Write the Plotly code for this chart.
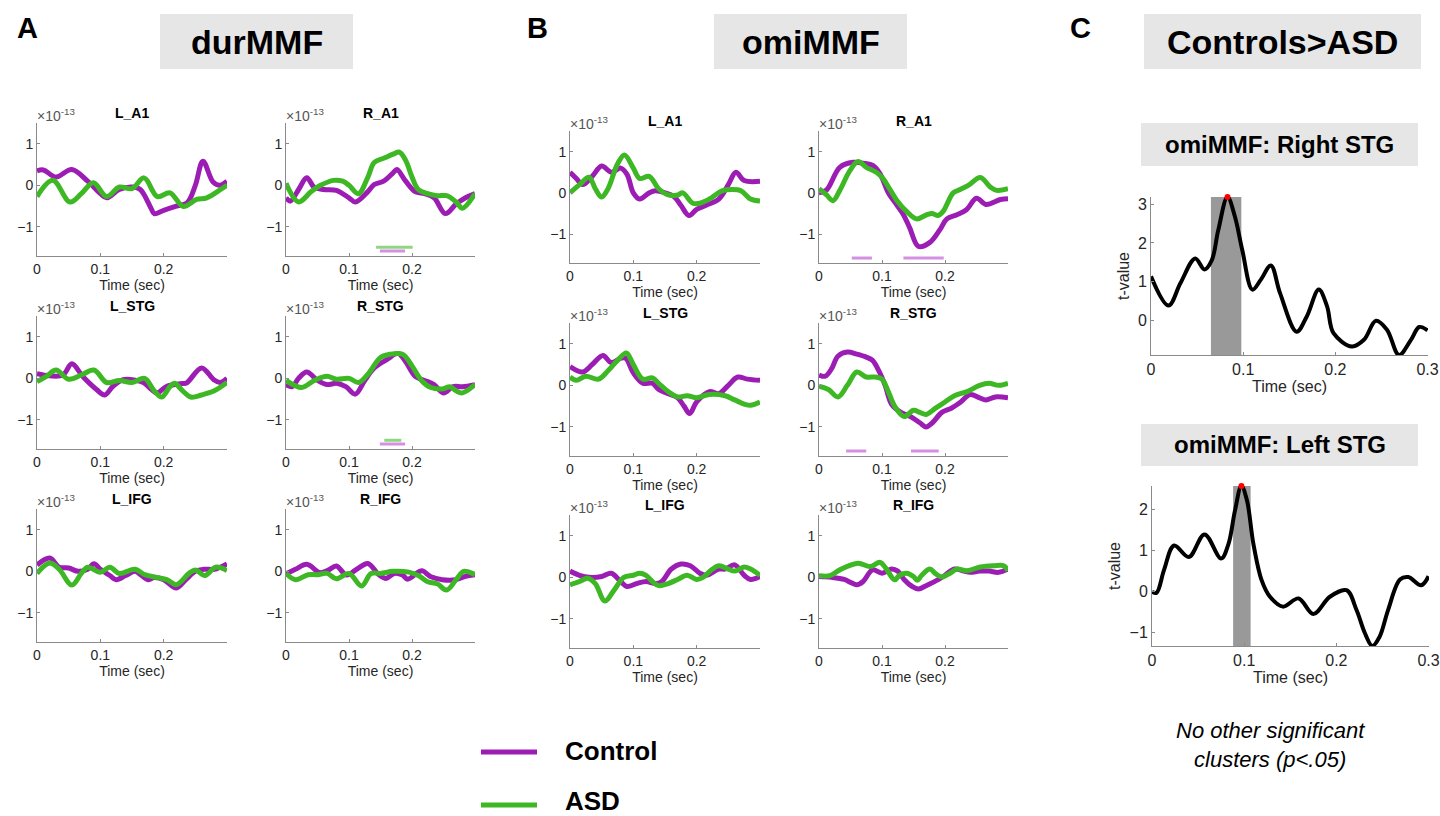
import plotly.graph_objects as go

W, H = 1440, 816
PURPLE = '#9C1DB4'
GREEN = '#3DB824'
PURPLE_L = '#D58FE3'
GREEN_L = '#8FD77F'
FONT = 'Liberation Sans, Arial, Helvetica, sans-serif'
TICKC = '#262626'
AXC = '#8a8a8a'

# ---------------- durMMF (panel A) ----------------
dur_LA1_ctrl_t = [0, 0.01, 0.03, 0.055, 0.08, 0.1, 0.11, 0.13, 0.15, 0.163, 0.18, 0.185, 0.2, 0.22, 0.237, 0.25, 0.262, 0.278, 0.289, 0.3]
dur_LA1_ctrl_v = [0.35, 0.37, 0.2, 0.38, 0.1, -0.2, -0.3, -0.1, -0.04, -0.1, -0.55, -0.68, -0.6, -0.5, -0.42, 0.0, 0.58, 0.08, 0.0, 0.1]
dur_LA1_asd_t = [0, 0.025, 0.052, 0.07, 0.089, 0.11, 0.13, 0.15, 0.169, 0.19, 0.21, 0.231, 0.252, 0.268, 0.29, 0.3]
dur_LA1_asd_v = [-0.27, 0.12, -0.4, -0.2, 0.06, -0.27, -0.04, -0.08, 0.18, -0.27, -0.18, -0.51, -0.34, -0.3, -0.1, 0.0]

dur_RA1_ctrl_t = [0, 0.007, 0.02, 0.033, 0.045, 0.06, 0.08, 0.1, 0.11, 0.13, 0.14, 0.155, 0.17, 0.176, 0.19, 0.205, 0.22, 0.235, 0.253, 0.27, 0.285, 0.3]
dur_RA1_ctrl_v = [-0.3, -0.38, -0.1, 0.18, -0.05, -0.1, -0.12, -0.3, -0.4, -0.15, 0.02, 0.1, 0.3, 0.38, 0.1, -0.15, -0.2, -0.3, -0.68, -0.45, -0.3, -0.2]
dur_RA1_asd_t = [0, 0.02, 0.04, 0.055, 0.075, 0.09, 0.1, 0.115, 0.13, 0.14, 0.155, 0.17, 0.18, 0.19, 0.2, 0.21, 0.225, 0.24, 0.255, 0.27, 0.28, 0.3]
dur_RA1_asd_v = [0.05, -0.4, -0.15, 0.0, 0.12, 0.1, 0.0, -0.2, 0.2, 0.55, 0.65, 0.75, 0.8, 0.6, 0.2, -0.1, -0.2, -0.25, -0.25, -0.4, -0.55, -0.2]
dur_RA1_sig_ctrl = [[0.149, 0.189]]
dur_RA1_sig_asd = [[0.143, 0.201]]

dur_LSTG_ctrl_t = [0, 0.02, 0.041, 0.055, 0.073, 0.094, 0.107, 0.12, 0.136, 0.157, 0.168, 0.181, 0.189, 0.205, 0.226, 0.236, 0.26, 0.279, 0.289, 0.3]
dur_LSTG_ctrl_v = [0.11, 0.06, 0.08, 0.35, 0.03, -0.27, -0.4, -0.19, -0.03, -0.05, -0.1, -0.27, -0.35, -0.19, -0.13, -0.11, 0.25, -0.03, -0.1, 0.0]
dur_LSTG_asd_t = [0, 0.015, 0.03, 0.05, 0.07, 0.09, 0.11, 0.13, 0.15, 0.17, 0.185, 0.197, 0.21, 0.217, 0.23, 0.243, 0.26, 0.28, 0.3]
dur_LSTG_asd_v = [-0.08, 0.05, 0.2, -0.02, 0.08, 0.2, -0.1, -0.05, -0.1, 0.0, -0.3, -0.45, -0.2, -0.12, -0.3, -0.45, -0.4, -0.3, -0.1]

dur_RSTG_ctrl_t = [0, 0.01, 0.02, 0.033, 0.05, 0.065, 0.08, 0.095, 0.11, 0.125, 0.14, 0.16, 0.178, 0.19, 0.205, 0.22, 0.235, 0.25, 0.265, 0.28, 0.3]
dur_RSTG_ctrl_v = [-0.15, -0.2, 0.0, 0.15, -0.05, -0.15, -0.12, -0.2, -0.38, -0.05, 0.25, 0.45, 0.6, 0.4, 0.05, -0.05, -0.15, -0.35, -0.2, -0.2, -0.15]
dur_RSTG_asd_t = [0, 0.025, 0.045, 0.065, 0.08, 0.1, 0.115, 0.13, 0.15, 0.165, 0.185, 0.2, 0.215, 0.23, 0.25, 0.26, 0.27, 0.28, 0.3]
dur_RSTG_asd_v = [-0.05, -0.22, -0.05, 0.05, -0.02, 0.0, -0.1, 0.1, 0.5, 0.58, 0.58, 0.3, -0.05, -0.22, -0.25, -0.2, -0.3, -0.35, -0.15]
dur_RSTG_sig_ctrl = [[0.149, 0.189]]
dur_RSTG_sig_asd = [[0.156, 0.183]]

dur_LIFG_ctrl_t = [0, 0.02, 0.035, 0.05, 0.065, 0.08, 0.09, 0.1, 0.115, 0.125, 0.14, 0.155, 0.165, 0.175, 0.185, 0.2, 0.22, 0.235, 0.25, 0.265, 0.28, 0.3]
dur_LIFG_ctrl_v = [0.15, 0.32, 0.1, 0.08, 0.0, 0.05, 0.18, 0.05, -0.1, -0.2, -0.1, 0.0, -0.1, -0.2, -0.15, -0.2, -0.4, -0.2, 0.0, 0.05, 0.05, 0.18]
dur_LIFG_asd_t = [0, 0.02, 0.035, 0.055, 0.07, 0.08, 0.1, 0.115, 0.13, 0.155, 0.17, 0.19, 0.205, 0.22, 0.24, 0.25, 0.265, 0.282, 0.3]
dur_LIFG_asd_v = [-0.05, 0.2, 0.05, -0.33, -0.05, 0.1, -0.02, 0.1, -0.05, 0.05, -0.08, -0.15, -0.2, -0.32, -0.05, 0.03, -0.1, 0.1, 0.02]

dur_RIFG_ctrl_t = [0, 0.015, 0.033, 0.054, 0.067, 0.08, 0.096, 0.114, 0.13, 0.148, 0.159, 0.172, 0.185, 0.193, 0.212, 0.217, 0.23, 0.248, 0.27, 0.285, 0.3]
dur_RIFG_ctrl_v = [-0.06, 0.05, 0.17, -0.03, 0.03, 0.13, -0.09, 0.07, 0.19, -0.09, -0.17, -0.05, -0.09, -0.19, 0.0, 0.01, -0.13, -0.2, -0.2, -0.12, -0.08]
dur_RIFG_asd_t = [0, 0.015, 0.035, 0.05, 0.065, 0.08, 0.1, 0.12, 0.135, 0.15, 0.17, 0.195, 0.21, 0.225, 0.24, 0.255, 0.27, 0.282, 0.3]
dur_RIFG_asd_v = [-0.05, -0.2, -0.08, -0.08, -0.05, -0.18, -0.05, -0.35, -0.05, -0.05, 0.0, -0.02, -0.1, -0.25, -0.3, -0.45, -0.2, 0.0, -0.08]

# ---------------- omiMMF (panel B) ----------------
omi_LA1_ctrl_t = [0, 0.01, 0.02, 0.035, 0.05, 0.065, 0.08, 0.09, 0.1, 0.11, 0.125, 0.135, 0.15, 0.165, 0.175, 0.188, 0.2, 0.215, 0.235, 0.25, 0.262, 0.275, 0.3]
omi_LA1_ctrl_v = [0.5, 0.35, 0.2, 0.4, 0.65, 0.5, 0.6, 0.45, 0.0, -0.15, 0.0, 0.05, 0.0, -0.1, -0.3, -0.55, -0.4, -0.3, -0.15, 0.2, 0.5, 0.3, 0.28]
omi_LA1_asd_t = [0, 0.015, 0.03, 0.04, 0.05, 0.06, 0.075, 0.086, 0.1, 0.11, 0.125, 0.14, 0.155, 0.17, 0.178, 0.194, 0.205, 0.22, 0.24, 0.255, 0.27, 0.285, 0.3]
omi_LA1_asd_v = [0.0, 0.2, 0.38, 0.1, -0.1, 0.1, 0.7, 0.92, 0.6, 0.35, 0.4, 0.1, -0.05, -0.05, 0.0, -0.25, -0.25, -0.15, 0.05, 0.08, 0.05, -0.15, -0.2]

omi_RA1_ctrl_t = [0, 0.012, 0.033, 0.054, 0.07, 0.086, 0.097, 0.11, 0.12, 0.134, 0.144, 0.158, 0.176, 0.192, 0.203, 0.219, 0.234, 0.25, 0.265, 0.288, 0.3]
omi_RA1_ctrl_v = [0.0, 0.07, 0.62, 0.74, 0.72, 0.66, 0.46, 0.0, -0.22, -0.53, -0.85, -1.3, -1.2, -0.89, -0.63, -0.53, -0.41, -0.13, -0.28, -0.16, -0.14]
omi_RA1_asd_t = [0, 0.012, 0.022, 0.033, 0.049, 0.062, 0.075, 0.091, 0.102, 0.112, 0.123, 0.139, 0.155, 0.171, 0.18, 0.189, 0.197, 0.213, 0.224, 0.237, 0.256, 0.272, 0.282, 0.3]
omi_RA1_asd_v = [0.1, -0.05, -0.19, 0.06, 0.54, 0.76, 0.62, 0.5, 0.34, 0.1, -0.17, -0.45, -0.63, -0.53, -0.5, -0.55, -0.45, 0.0, 0.08, 0.18, 0.37, 0.14, 0.06, 0.1]
omi_RA1_sig_ctrl = [[0.052, 0.084], [0.134, 0.198]]

omi_LSTG_ctrl_t = [0, 0.02, 0.035, 0.052, 0.065, 0.08, 0.088, 0.1, 0.115, 0.13, 0.14, 0.155, 0.17, 0.18, 0.189, 0.2, 0.22, 0.235, 0.25, 0.265, 0.28, 0.3]
omi_LSTG_ctrl_v = [0.45, 0.32, 0.5, 0.72, 0.55, 0.65, 0.65, 0.3, 0.05, 0.05, -0.1, -0.2, -0.3, -0.5, -0.68, -0.4, -0.15, -0.2, 0.0, 0.2, 0.15, 0.12]
omi_LSTG_asd_t = [0, 0.01, 0.025, 0.045, 0.06, 0.075, 0.089, 0.1, 0.115, 0.13, 0.14, 0.155, 0.17, 0.185, 0.2, 0.22, 0.245, 0.26, 0.275, 0.285, 0.3]
omi_LSTG_asd_v = [0.2, 0.12, 0.22, 0.15, 0.35, 0.6, 0.78, 0.5, 0.15, 0.18, 0.05, -0.15, -0.28, -0.25, -0.3, -0.22, -0.25, -0.35, -0.45, -0.48, -0.4]

omi_RSTG_ctrl_t = [0, 0.01, 0.02, 0.03, 0.045, 0.06, 0.075, 0.085, 0.095, 0.105, 0.115, 0.13, 0.145, 0.16, 0.17, 0.18, 0.195, 0.21, 0.225, 0.24, 0.255, 0.265, 0.28, 0.3]
omi_RSTG_ctrl_v = [0.25, 0.22, 0.4, 0.7, 0.8, 0.75, 0.68, 0.6, 0.35, 0.0, -0.45, -0.65, -0.75, -0.9, -1.0, -0.9, -0.65, -0.55, -0.4, -0.22, -0.3, -0.35, -0.28, -0.3]
omi_RSTG_asd_t = [0, 0.015, 0.03, 0.045, 0.06, 0.075, 0.09, 0.1, 0.11, 0.12, 0.135, 0.15, 0.16, 0.17, 0.185, 0.2, 0.215, 0.235, 0.255, 0.27, 0.285, 0.3]
omi_RSTG_asd_v = [-0.02, -0.1, -0.28, 0.0, 0.32, 0.2, 0.2, 0.15, -0.15, -0.5, -0.75, -0.6, -0.65, -0.7, -0.55, -0.4, -0.25, -0.15, 0.0, 0.05, 0.0, 0.05]
omi_RSTG_sig_ctrl = [[0.043, 0.075], [0.146, 0.19]]

omi_LIFG_ctrl_t = [0, 0.015, 0.03, 0.05, 0.065, 0.08, 0.09, 0.105, 0.12, 0.135, 0.145, 0.16, 0.175, 0.19, 0.205, 0.215, 0.235, 0.245, 0.26, 0.275, 0.285, 0.3]
omi_LIFG_ctrl_v = [0.15, 0.05, 0.0, 0.02, 0.1, -0.1, -0.22, -0.15, -0.1, -0.15, -0.1, 0.2, 0.32, 0.28, 0.1, 0.05, 0.2, 0.2, 0.3, 0.05, -0.05, 0.02]
omi_LIFG_asd_t = [0, 0.015, 0.028, 0.04, 0.055, 0.07, 0.085, 0.1, 0.11, 0.12, 0.13, 0.14, 0.155, 0.17, 0.185, 0.2, 0.21, 0.225, 0.235, 0.25, 0.26, 0.275, 0.285, 0.3]
omi_LIFG_asd_v = [-0.18, -0.1, -0.02, -0.15, -0.57, -0.3, 0.0, 0.05, 0.1, 0.05, -0.1, -0.2, -0.15, -0.05, 0.05, -0.05, 0.0, 0.2, 0.28, 0.2, 0.15, 0.25, 0.2, 0.05]

omi_RIFG_ctrl_t = [0, 0.02, 0.04, 0.05, 0.06, 0.07, 0.085, 0.1, 0.115, 0.125, 0.135, 0.148, 0.158, 0.17, 0.19, 0.2, 0.215, 0.23, 0.24, 0.255, 0.27, 0.285, 0.3]
omi_RIFG_ctrl_v = [0.02, 0.0, -0.05, -0.12, -0.18, -0.1, 0.18, 0.1, 0.2, 0.15, -0.05, -0.22, -0.28, -0.2, -0.05, 0.05, 0.2, 0.15, 0.12, 0.15, 0.15, 0.12, 0.2]
omi_RIFG_asd_t = [0, 0.017, 0.033, 0.062, 0.081, 0.097, 0.107, 0.12, 0.128, 0.139, 0.15, 0.156, 0.163, 0.176, 0.184, 0.195, 0.208, 0.219, 0.235, 0.256, 0.277, 0.293, 0.3]
omi_RIFG_asd_v = [0.04, 0.04, 0.18, 0.34, 0.26, 0.36, 0.2, -0.06, 0.05, 0.1, 0.02, -0.07, 0.05, 0.2, 0.1, 0.01, 0.1, 0.2, 0.16, 0.25, 0.28, 0.28, 0.16]

# ---------------- Controls>ASD t-values (panel C) ----------------
tR_t = [0, 0.019, 0.032, 0.048, 0.058, 0.066, 0.073, 0.083, 0.091, 0.099, 0.11, 0.119, 0.13, 0.14, 0.158, 0.169, 0.182, 0.191, 0.198, 0.218, 0.231, 0.244, 0.256, 0.269, 0.282, 0.291, 0.3]
tR_v = [1.14, 0.39, 0.97, 1.6, 1.32, 1.56, 2.33, 3.18, 2.68, 1.82, 0.8, 1.05, 1.42, 0.71, -0.28, 0.11, 0.8, 0.37, -0.32, -0.66, -0.49, 0.0, -0.23, -0.88, -0.49, -0.16, -0.25]
tR_cluster = [0.065, 0.098]
tL_t = [0, 0.005, 0.013, 0.024, 0.04, 0.057, 0.075, 0.083, 0.09, 0.097, 0.103, 0.11, 0.119, 0.128, 0.142, 0.159, 0.175, 0.193, 0.211, 0.222, 0.231, 0.239, 0.247, 0.256, 0.269, 0.278, 0.292, 0.3]
tL_v = [0.0, -0.02, 0.53, 1.13, 0.85, 1.4, 0.81, 1.17, 1.98, 2.58, 2.23, 1.17, 0.28, -0.12, -0.36, -0.16, -0.54, -0.12, 0.04, -0.45, -1.01, -1.32, -1.09, -0.45, 0.3, 0.36, 0.16, 0.38]
tL_cluster = [0.088, 0.107]

xticks_ab = [0, 0.1, 0.2]
xticklabels_ab = ['0', '0.1', '0.2']
yticks_ab = [-1, 0, 1]
xticks_c = [0, 0.1, 0.2, 0.3]
xticklabels_c = ['0', '0.1', '0.2', '0.3']

# ---------------------------------------------------------------
fig = go.Figure()
layout = dict(width=W, height=H, margin=dict(l=0, r=0, t=0, b=0),
              paper_bgcolor='white', plot_bgcolor='white', showlegend=False,
              font=dict(family=FONT, color=TICKC))
shapes, annotations = [], []


def px_dom_x(a, b):
    return [a / W, b / W]


def px_dom_y(top, bottom):
    return [1 - bottom / H, 1 - top / H]


def axis_pair(i, xpx, ypx, xr, yr, xtv, xtt, ytv, fs, ytitle=None):
    xa = 'xaxis' if i == 1 else f'xaxis{i}'
    ya = 'yaxis' if i == 1 else f'yaxis{i}'
    layout[xa] = dict(domain=px_dom_x(*xpx), range=xr, anchor=f'y{i}' if i > 1 else 'y',
                      showline=True, linecolor=AXC, linewidth=1, showgrid=False, zeroline=False,
                      ticks='inside', ticklen=3, tickcolor=AXC, tickvals=xtv, ticktext=xtt,
                      tickfont=dict(size=fs, color=TICKC, family=FONT),
                      title=dict(text='Time (sec)', font=dict(size=fs, color=TICKC, family=FONT), standoff=2),
                      automargin=False, fixedrange=True)
    layout[ya] = dict(domain=px_dom_y(*ypx), range=yr, anchor=f'x{i}' if i > 1 else 'x',
                      showline=True, linecolor=AXC, linewidth=1, showgrid=False, zeroline=False,
                      ticks='inside', ticklen=3, tickcolor=AXC, tickvals=ytv,
                      tickfont=dict(size=fs, color=TICKC, family=FONT),
                      automargin=False, fixedrange=True)
    if ytitle:
        layout[ya]['title'] = dict(text=ytitle, font=dict(size=fs, color=TICKC, family=FONT), standoff=4)


def refs(i):
    return ('x', 'y') if i == 1 else (f'x{i}', f'y{i}')


ab_panels = [
    # name, ctrl_t, ctrl_v, asd_t, asd_v, sig_ctrl, sig_asd, xpx, ypx
    ('L_A1', dur_LA1_ctrl_t, dur_LA1_ctrl_v, dur_LA1_asd_t, dur_LA1_asd_v, [], [], (37, 227), (123, 256)),
    ('R_A1', dur_RA1_ctrl_t, dur_RA1_ctrl_v, dur_RA1_asd_t, dur_RA1_asd_v, dur_RA1_sig_ctrl, dur_RA1_sig_asd, (286, 475), (123, 256)),
    ('L_STG', dur_LSTG_ctrl_t, dur_LSTG_ctrl_v, dur_LSTG_asd_t, dur_LSTG_asd_v, [], [], (37, 227), (316, 449)),
    ('R_STG', dur_RSTG_ctrl_t, dur_RSTG_ctrl_v, dur_RSTG_asd_t, dur_RSTG_asd_v, dur_RSTG_sig_ctrl, dur_RSTG_sig_asd, (286, 475), (316, 449)),
    ('L_IFG', dur_LIFG_ctrl_t, dur_LIFG_ctrl_v, dur_LIFG_asd_t, dur_LIFG_asd_v, [], [], (37, 227), (509, 642)),
    ('R_IFG', dur_RIFG_ctrl_t, dur_RIFG_ctrl_v, dur_RIFG_asd_t, dur_RIFG_asd_v, [], [], (286, 475), (509, 642)),
    ('L_A1', omi_LA1_ctrl_t, omi_LA1_ctrl_v, omi_LA1_asd_t, omi_LA1_asd_v, [], [], (570, 760), (131, 263)),
    ('R_A1', omi_RA1_ctrl_t, omi_RA1_ctrl_v, omi_RA1_asd_t, omi_RA1_asd_v, omi_RA1_sig_ctrl, [], (819, 1008), (131, 263)),
    ('L_STG', omi_LSTG_ctrl_t, omi_LSTG_ctrl_v, omi_LSTG_asd_t, omi_LSTG_asd_v, [], [], (570, 760), (323, 456)),
    ('R_STG', omi_RSTG_ctrl_t, omi_RSTG_ctrl_v, omi_RSTG_asd_t, omi_RSTG_asd_v, omi_RSTG_sig_ctrl, [], (819, 1008), (323, 456)),
    ('L_IFG', omi_LIFG_ctrl_t, omi_LIFG_ctrl_v, omi_LIFG_asd_t, omi_LIFG_asd_v, [], [], (570, 760), (515, 648)),
    ('R_IFG', omi_RIFG_ctrl_t, omi_RIFG_ctrl_v, omi_RIFG_asd_t, omi_RIFG_asd_v, [], [], (819, 1008), (515, 648)),
]

YR = [-1.7, 1.5]
SIG_Y_ASD = -1.49
SIG_Y_CTRL = -1.58

for k, (name, ct, cv, at, av, sc, sa, xpx, ypx) in enumerate(ab_panels):
    i = k + 1
    axis_pair(i, xpx, ypx, [0, 0.3], YR, xticks_ab, xticklabels_ab, yticks_ab, 14)
    xr, yr = refs(i)
    for seg in sa:
        fig.add_trace(go.Scatter(x=seg, y=[SIG_Y_ASD] * 2, mode='lines', xaxis=xr, yaxis=yr,
                                 line=dict(color=GREEN_L, width=3), hoverinfo='skip'))
    for seg in sc:
        fig.add_trace(go.Scatter(x=seg, y=[SIG_Y_CTRL] * 2, mode='lines', xaxis=xr, yaxis=yr,
                                 line=dict(color=PURPLE_L, width=3), hoverinfo='skip'))
    fig.add_trace(go.Scatter(x=ct, y=cv, mode='lines', xaxis=xr, yaxis=yr, name='Control',
                             line=dict(color=PURPLE, width=5, shape='spline', smoothing=1.0)))
    fig.add_trace(go.Scatter(x=at, y=av, mode='lines', xaxis=xr, yaxis=yr, name='ASD',
                             line=dict(color=GREEN, width=5, shape='spline', smoothing=1.0)))
    dom = (xr + ' domain', yr + ' domain')
    annotations.append(dict(text='<b>' + name + '</b>', xref=dom[0], yref=dom[1], x=0.5, y=1,
                            xanchor='center', yanchor='bottom', yshift=0, showarrow=False,
                            font=dict(size=14, color='black', family=FONT)))
    annotations.append(dict(text='×10<sup>-13</sup>', xref=dom[0], yref=dom[1], x=0, y=1,
                            xanchor='left', yanchor='bottom', xshift=-2, yshift=-3, showarrow=False,
                            font=dict(size=14, color='#555555', family=FONT)))

# Panel C
c_panels = [
    (tR_t, tR_v, tR_cluster, (1151, 1428), (197, 355), [0, 1, 2, 3]),
    (tL_t, tL_v, tL_cluster, (1152, 1429), (486, 646), [-1, 0, 1, 2]),
]
for k, (tt, tv, cl, xpx, ypx, ytv) in enumerate(c_panels):
    i = 13 + k
    yr_ = [min(tv), max(tv)]
    axis_pair(i, xpx, ypx, [0, 0.3005], yr_, xticks_c, xticklabels_c, ytv, 16, ytitle='t-value')
    xr, yr = refs(i)
    shapes.append(dict(type='rect', xref=xr, yref=yr, x0=cl[0], x1=cl[1], y0=yr_[0], y1=yr_[1],
                       fillcolor='#999999', line=dict(width=0), layer='below'))
    fig.add_trace(go.Scatter(x=tt, y=tv, mode='lines', xaxis=xr, yaxis=yr,
                             line=dict(color='black', width=4, shape='spline', smoothing=1.0)))
    pk = tv.index(max(tv))
    fig.add_trace(go.Scatter(x=[tt[pk]], y=[tv[pk]], mode='markers', xaxis=xr, yaxis=yr,
                             marker=dict(color='red', size=6), cliponaxis=False))

# header boxes
headers = [
    ('durMMF', 160, 353, 14, 69, 34),
    ('omiMMF', 714, 907, 14, 69, 34),
    ('Controls>ASD', 1144, 1421, 14, 69, 34),
    ('omiMMF: Right STG', 1141, 1418, 123, 166, 24),
    ('omiMMF: Left STG', 1141, 1418, 424, 466, 24),
]
for txt, x0, x1, y0, y1, fs in headers:
    shapes.append(dict(type='rect', xref='paper', yref='paper', x0=x0 / W, x1=x1 / W,
                       y0=1 - y1 / H, y1=1 - y0 / H, fillcolor='#E6E6E6', line=dict(width=0), layer='below'))
    annotations.append(dict(text='<b>' + txt.replace('>', '&gt;') + '</b>', xref='paper', yref='paper',
                            x=(x0 + x1) / 2 / W, y=1 - (y0 + y1) / 2 / H, xanchor='center', yanchor='middle',
                            showarrow=False, font=dict(size=fs, color='black', family=FONT)))

for lab, x, y in [('A', 27, 28), ('B', 537, 28), ('C', 1080, 28)]:
    annotations.append(dict(text='<b>' + lab + '</b>', xref='paper', yref='paper', x=x / W, y=1 - y / H,
                            xanchor='center', yanchor='middle', showarrow=False,
                            font=dict(size=29, color='black', family=FONT)))

# legend (manual)
for lab, col, y, ty in [('Control', PURPLE, 752, 751), ('ASD', GREEN, 805, 801)]:
    shapes.append(dict(type='line', xref='paper', yref='paper', x0=481 / W, x1=537 / W,
                       y0=1 - y / H, y1=1 - y / H, line=dict(color=col, width=5)))
    annotations.append(dict(text='<b>' + lab + '</b>', xref='paper', yref='paper', x=563 / W, y=1 - ty / H,
                            xanchor='left', yanchor='middle', showarrow=False,
                            font=dict(size=26, color='black', family=FONT)))

annotations.append(dict(text='<i>No other significant<br>clusters (p&lt;.05)</i>', xref='paper', yref='paper',
                        x=1270 / W, y=1 - 745 / H, xanchor='center', yanchor='middle', showarrow=False,
                        align='center', font=dict(size=22, color='black', family=FONT)))

layout['shapes'] = shapes
layout['annotations'] = annotations
fig.update_layout(**layout)
fig.write_html('out.html', config={'displayModeBar': False})
